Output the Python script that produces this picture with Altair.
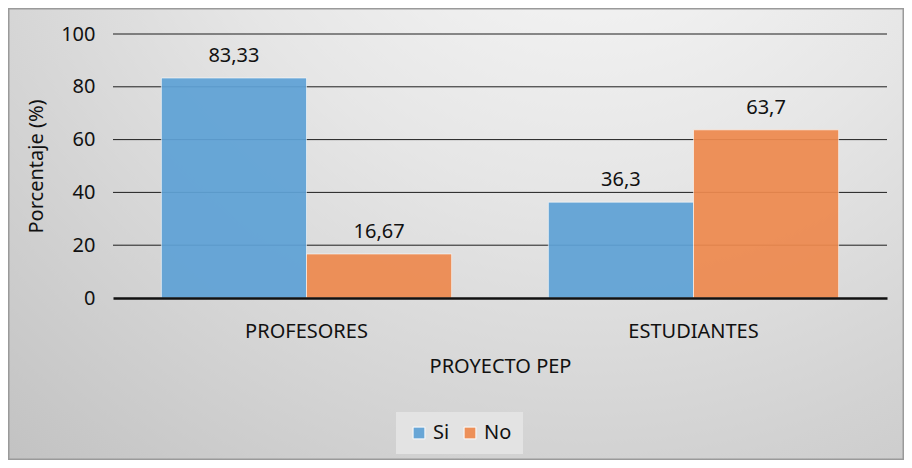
import altair as alt
import pandas as pd

groups = ["PROFESORES", "PROFESORES", "ESTUDIANTES", "ESTUDIANTES"]
series = ["Si", "No", "Si", "No"]
values = [83.33, 16.67, 36.3, 63.7]
labels = ["83,33", "16,67", "36,3", "63,7"]
grid_values = [20, 40, 60, 80, 100]
y_ticks = [0, 20, 40, 60, 80, 100]

df = pd.DataFrame({"group": groups, "series": series, "value": values, "label": labels})

FONT = "Noto Sans"
FS = 20
W, H = 774, 264
PL, PT, PR, PB = 105, 26, 17, 162

bg = alt.Chart(pd.DataFrame({"a": [0]})).mark_rect(
    color=alt.RadialGradient(
        gradient="radial",
        stops=[
            alt.GradientStop(offset=0, color="#fdfdfd"),
            alt.GradientStop(offset=0.45, color="#e6e6e6"),
            alt.GradientStop(offset=1, color="#c2c2c2"),
        ],
        x1=0.65, y1=0.0, r1=0.0, x2=0.65, y2=0.0, r2=1.0,
    ),
    stroke="#9a9a9a",
    strokeWidth=1.5,
).encode(
    x=alt.value(-PL + 0.75), x2=alt.value(W + PR - 0.75),
    y=alt.value(-PT + 0.75), y2=alt.value(H + PB - 0.75),
)

yscale = alt.Scale(domain=[0, 100], nice=False)
yaxis = alt.Axis(
    title="Porcentaje (%)", values=y_ticks,
    domain=False, ticks=False, grid=False,
    labelPadding=18, titlePadding=14, zindex=1,
)

grid = alt.Chart(pd.DataFrame({"g": grid_values})).mark_rule(
    color="#1e1e1e", strokeWidth=1
).encode(
    y=alt.Y("g:Q", scale=yscale, axis=yaxis),
    x=alt.value(0), x2=alt.value(W),
)

base = alt.Chart(df).encode(
    x=alt.X(
        "group:N",
        sort=["PROFESORES", "ESTUDIANTES"],
        scale=alt.Scale(paddingInner=0.25, paddingOuter=0.125),
        axis=alt.Axis(
            title="PROYECTO PEP", labelAngle=0, ticks=False,
            domainColor="#111111", domainWidth=2.5,
            labelPadding=23, titlePadding=15, zindex=1,
        ),
    ),
    xOffset=alt.XOffset("series:N", sort=["Si", "No"],
                        scale=alt.Scale(paddingInner=0, paddingOuter=0)),
    y=alt.Y("value:Q", scale=yscale, axis=yaxis),
)

bars = base.mark_bar(opacity=0.93, stroke="#ffffff", strokeWidth=1, strokeOpacity=0.6).encode(
    color=alt.Color(
        "series:N",
        sort=["Si", "No"],
        scale=alt.Scale(domain=["Si", "No"], range=["#5fa2d6", "#ee8a4f"]),
        legend=alt.Legend(
            title=None, orient="none", direction="horizontal",
            legendX=283, legendY=378,
            symbolType="square", symbolSize=140, symbolStrokeColor="#ffffff",
            symbolStrokeWidth=1, labelFontSize=FS, labelFont=FONT,
            labelColor="#111111", fillColor="#e3e3e3", padding=11,
            columnPadding=8, symbolOffset=2, labelOffset=4, zindex=1,
        ),
    )
)

text = base.mark_text(baseline="bottom", dy=-12, fontSize=FS, font=FONT, color="#111111").encode(
    text="label:N"
)

chart = alt.layer(bg, grid, bars, text).properties(
    width=W, height=H,
    autosize=alt.AutoSizeParams(type="none"),
    padding={"left": PL, "top": PT, "right": PR, "bottom": PB},
).configure(background="#ffffff").configure_view(stroke=None).configure_axis(
    labelFont=FONT, titleFont=FONT, labelFontSize=FS, titleFontSize=FS,
    titleFontWeight="normal", labelColor="#111111", titleColor="#111111",
)

chart.save("out.html", embed_options={"renderer": "svg", "actions": False})
